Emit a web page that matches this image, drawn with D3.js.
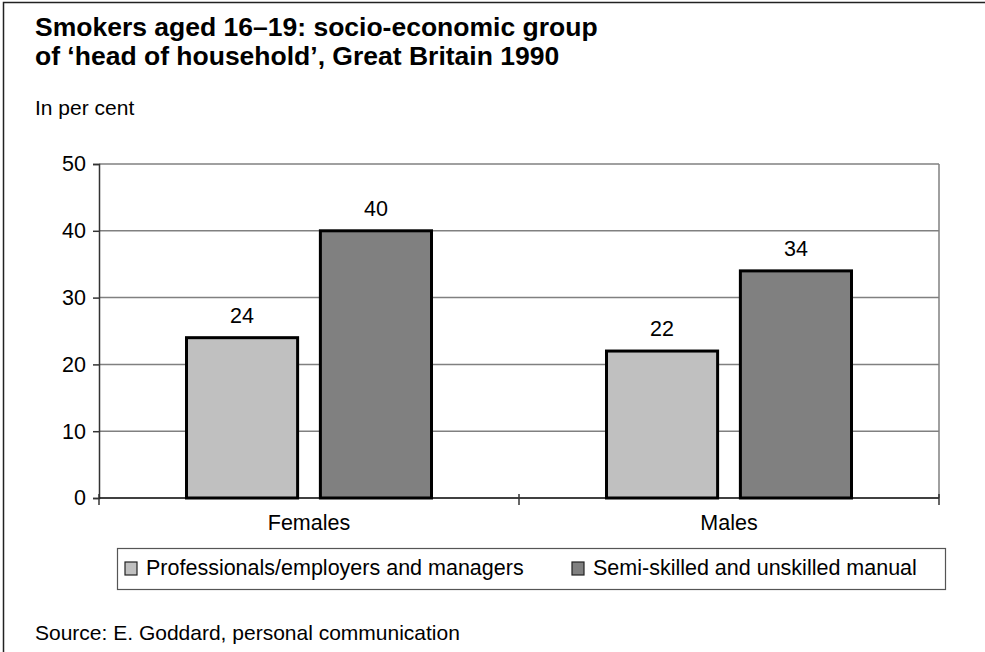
<!DOCTYPE html>
<html>
<head>
<meta charset="utf-8">
<script src="https://cdn.jsdelivr.net/npm/d3@7"></script>
<style>
  body { margin: 0; background: #fff; }
  text { font-family: "Liberation Sans", Arial, sans-serif; fill: #000; }
</style>
</head>
<body>
<div id="app"></div>
<script>
// data
const categories = ["Females", "Males"];
const seriesNames = ["Professionals/employers and managers", "Semi-skilled and unskilled manual"];
const professionals = [24, 22];
const semiskilled = [40, 34];
const yTicks = [0, 10, 20, 30, 40, 50];

const w = 985, h = 652;
const colors = ["#c0c0c0", "#808080"];
const fs = "21.5px";

const svg = d3.select("#app").append("svg")
    .attr("width", w)
    .attr("height", h);

// outer frame
svg.append("rect")
    .attr("x", 3.5).attr("y", 2.5)
    .attr("width", 1000).attr("height", 700)
    .attr("fill", "none")
    .attr("stroke", "#222")
    .attr("stroke-width", 1.5);

svg.append("text")
    .attr("x", 35).attr("y", 36)
    .style("font-size", "26.5px").style("font-weight", "bold")
    .text("Smokers aged 16\u201319: socio-economic group");
svg.append("text")
    .attr("x", 35).attr("y", 65)
    .style("font-size", "26.5px").style("font-weight", "bold")
    .text("of \u2018head of household\u2019, Great Britain 1990");

svg.append("text")
    .attr("x", 35).attr("y", 115)
    .style("font-size", "21px")
    .text("In per cent");

svg.append("text")
    .attr("x", 35).attr("y", 640)
    .style("font-size", "21px")
    .text("Source: E. Goddard, personal communication");

// plot area
const pLeft = 99, pRight = 939, pTop = 164, pBottom = 498;

const x0 = d3.scaleBand().domain(categories).range([pLeft, pRight]);
const x1 = d3.scaleBand().domain([0, 1]).range([87.5, x0.bandwidth() - 87.5]).paddingInner(0.17);
const y = d3.scaleLinear().domain([0, 50]).range([pBottom, pTop]);

// gridlines
svg.append("g")
    .selectAll("line")
    .data(yTicks.filter(d => d > 0))
    .enter().append("line")
    .attr("x1", pLeft).attr("x2", pRight)
    .attr("y1", d => y(d)).attr("y2", d => y(d))
    .attr("stroke", "#808080")
    .attr("stroke-width", 1.5);

// right border
svg.append("line")
    .attr("x1", pRight).attr("x2", pRight)
    .attr("y1", pTop).attr("y2", pBottom)
    .attr("stroke", "#808080")
    .attr("stroke-width", 1.5);

// bars
const rows = categories.map((c, i) => ({cat: c, vals: [professionals[i], semiskilled[i]]}));

const groups = svg.selectAll(".grp")
    .data(rows)
    .enter().append("g")
    .attr("class", "grp")
    .attr("transform", d => "translate(" + x0(d.cat) + ",0)");

groups.selectAll("rect")
    .data(d => d.vals.map((v, j) => ({v: v, j: j})))
    .enter().append("rect")
    .attr("x", d => x1(d.j))
    .attr("y", d => y(d.v))
    .attr("width", x1.bandwidth())
    .attr("height", d => pBottom - y(d.v))
    .attr("fill", d => colors[d.j])
    .attr("stroke", "#000")
    .attr("stroke-width", 3);

groups.selectAll(".lbl")
    .data(d => d.vals.map((v, j) => ({v: v, j: j})))
    .enter().append("text")
    .attr("class", "lbl")
    .attr("x", d => x1(d.j) + x1.bandwidth() / 2)
    .attr("y", d => y(d.v) - 15)
    .attr("text-anchor", "middle")
    .style("font-size", fs)
    .text(d => d.v);

// y axis
const yAxis = d3.axisLeft(y).tickValues(yTicks).tickSize(6).tickPadding(7);
const gy = svg.append("g")
    .attr("transform", "translate(" + pLeft + ",0)")
    .call(yAxis);
gy.select(".domain").attr("stroke", "#333").attr("stroke-width", 1.5);
gy.selectAll(".tick line").attr("stroke", "#333").attr("stroke-width", 1.5);
gy.selectAll("text").style("font-size", fs).style("font-family", "Liberation Sans, Arial, sans-serif");

// x axis
const gx = svg.append("g")
    .attr("transform", "translate(0," + pBottom + ")");
gx.append("line")
    .attr("x1", pLeft).attr("x2", pRight)
    .attr("stroke", "#000").attr("stroke-width", 1.5);
gx.selectAll(".xt")
    .data([pLeft, x0("Males"), pRight])
    .enter().append("line")
    .attr("x1", d => d).attr("x2", d => d)
    .attr("y1", -4).attr("y2", 7)
    .attr("stroke", "#333").attr("stroke-width", 1.5);
gx.selectAll(".xl")
    .data(categories)
    .enter().append("text")
    .attr("x", d => x0(d) + x0.bandwidth() / 2)
    .attr("y", 32)
    .attr("text-anchor", "middle")
    .style("font-size", fs)
    .text(d => d);

// legend
const legend = svg.append("g").attr("id", "legend");
legend.append("rect")
    .attr("x", 117.5).attr("y", 548.5)
    .attr("width", 828).attr("height", 41)
    .attr("fill", "none")
    .attr("stroke", "#555")
    .attr("stroke-width", 1.2);

const legX = [125, 572];
seriesNames.forEach((s, i) => {
    legend.append("rect")
        .attr("x", legX[i]).attr("y", 562)
        .attr("width", 12).attr("height", 13)
        .attr("fill", colors[i])
        .attr("stroke", "#222").attr("stroke-width", 1.2);
    legend.append("text")
        .attr("x", legX[i] + 21).attr("y", 575)
        .style("font-size", fs)
        .text(s);
});
</script>
</body>
</html>
